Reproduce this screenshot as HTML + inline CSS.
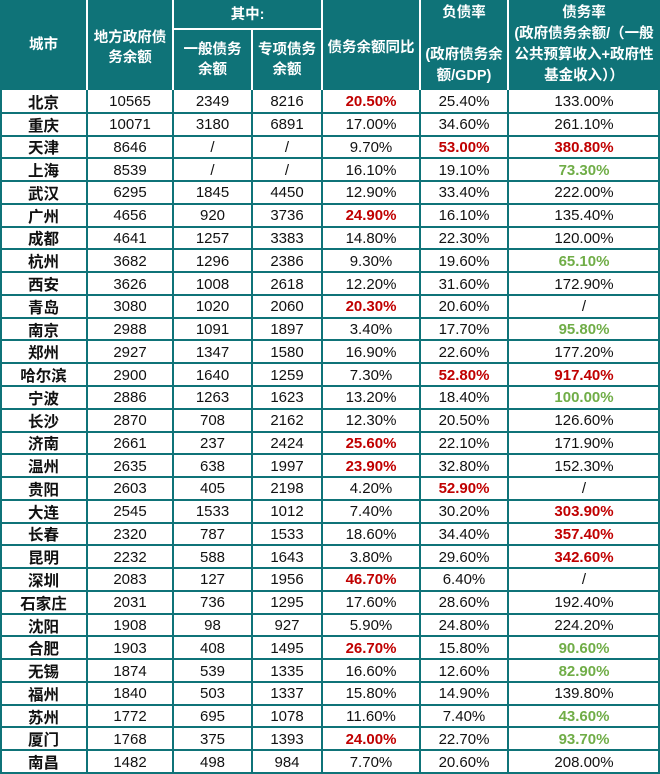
<!DOCTYPE html>
<html><head><meta charset="utf-8">
<style>
body{margin:0;width:660px;height:773px;background:#fff;overflow:hidden;font-family:"Liberation Sans","Noto Sans CJK SC",sans-serif;}
#t{position:absolute;left:0;top:0;width:660px;height:773px;}
.h{position:absolute;background:#0f7378;color:#fff;font-weight:bold;font-size:14.5px;display:flex;align-items:center;justify-content:center;text-align:center;line-height:20px;box-sizing:border-box;}
.c{position:absolute;display:flex;align-items:center;justify-content:center;font-size:15px;color:#111;box-sizing:border-box;padding-top:1px;}
.vl{position:absolute;background:#0f7378;}
.hl{position:absolute;background:#0f7378;}
.wl{position:absolute;background:#fff;}
.r{color:#c00000;font-weight:bold;}
.g{color:#70ad47;font-weight:bold;}
.city{font-weight:bold;font-size:15.5px;}
</style></head><body>
<div id="t">
<div class="h" style="left:0;top:0;width:660px;height:90px"></div>
<div class="h" style="left:0;top:0;width:87px;height:90px">城市</div>
<div class="h" style="left:87px;top:0;width:86px;height:90px;padding-top:6px">地方政府债<br>务余额</div>
<div class="h" style="left:173px;top:0;width:149px;height:29px">其中:</div>
<div class="h" style="left:252px;top:29px;width:70px;height:61px">专项债务<br>余额</div>
<div class="h" style="left:173px;top:29px;width:79px;height:61px">一般债务<br>余额</div>
<div class="h" style="left:322px;top:0;width:98px;height:90px;padding-top:6px">债务余额同比</div>
<div class="h" style="left:420px;top:0;width:88px;height:90px;line-height:21px">负债率<br><br>(政府债务余<br>额/GDP)</div>
<div class="h" style="left:508px;top:0;width:152px;height:90px;line-height:21px">债务率<br>(政府债务余额/（一般<br>公共预算收入+政府性<br>基金收入））</div>
<div class="wl" style="left:173px;top:28px;width:149px;height:1.5px"></div>
</div>
<script>
const cities=["北京","重庆","天津","上海","武汉","广州","成都","杭州","西安","青岛","南京","郑州","哈尔滨","宁波","长沙","济南","温州","贵阳","大连","长春","昆明","深圳","石家庄","沈阳","合肥","无锡","福州","苏州","厦门","南昌"];
const totalDebt=["10565","10071","8646","8539","6295","4656","4641","3682","3626","3080","2988","2927","2900","2886","2870","2661","2635","2603","2545","2320","2232","2083","2031","1908","1903","1874","1840","1772","1768","1482"];
const generalDebt=["2349","3180","/","/","1845","920","1257","1296","1008","1020","1091","1347","1640","1263","708","237","638","405","1533","787","588","127","736","98","408","539","503","695","375","498"];
const specialDebt=["8216","6891","/","/","4450","3736","3383","2386","2618","2060","1897","1580","1259","1623","2162","2424","1997","2198","1012","1533","1643","1956","1295","927","1495","1335","1337","1078","1393","984"];
const yoy=["20.50%R","17.00%","9.70%","16.10%","12.90%","24.90%R","14.80%","9.30%","12.20%","20.30%R","3.40%","16.90%","7.30%","13.20%","12.30%","25.60%R","23.90%R","4.20%","7.40%","18.60%","3.80%","46.70%R","17.60%","5.90%","26.70%R","16.60%","15.80%","11.60%","24.00%R","7.70%"];
const liability=["25.40%","34.60%","53.00%R","19.10%","33.40%","16.10%","22.30%","19.60%","31.60%","20.60%","17.70%","22.60%","52.80%R","18.40%","20.50%","22.10%","32.80%","52.90%R","30.20%","34.40%","29.60%","6.40%","28.60%","24.80%","15.80%","12.60%","14.90%","7.40%","22.70%","20.60%"];
const debtRatio=["133.00%","261.10%","380.80%R","73.30%G","222.00%","135.40%","120.00%","65.10%G","172.90%","/","95.80%G","177.20%","917.40%R","100.00%G","126.60%","171.90%","152.30%","/","303.90%R","357.40%R","342.60%R","/","192.40%","224.20%","90.60%G","82.90%G","139.80%","43.60%G","93.70%G","208.00%"];
const colX=[0,87,173,252,322,420,508,660];
const colNames=["city","total-debt","general-debt","special-debt","yoy","liability-ratio","debt-ratio"];
const top0=90, rh=(773-90)/cities.length;
const t=document.getElementById('t');
const cols=[cities,totalDebt,generalDebt,specialDebt,yoy,liability,debtRatio];
for(let i=0;i<cities.length;i++){
  for(let j=0;j<7;j++){
    let v=cols[j][i];const d=document.createElement('div');
    d.className='c';
    if(j===0)d.classList.add('city');
    if(v.endsWith('R')){v=v.slice(0,-1);d.classList.add('r');}
    else if(v.endsWith('G')){v=v.slice(0,-1);d.classList.add('g');}
    d.textContent=v;
    d.style.left=colX[j]+'px';d.style.width=(colX[j+1]-colX[j])+'px';
    d.style.top=(top0+i*rh)+'px';d.style.height=rh+'px';
    
    
    t.appendChild(d);
  }
  const l=document.createElement('div');l.className='hl';
  l.style.left='0';l.style.width='660px';l.style.height='2px';l.style.top=(top0+(i+1)*rh-1)+'px';
  
  
  t.appendChild(l);
}
for(let j=0;j<colX.length;j++){
  let x=colX[j];
  const l=document.createElement('div');l.className='vl';
  l.style.left=Math.min(Math.max(x-1,0),658)+'px';l.style.width='2px';l.style.top=top0+'px';l.style.height=(773-top0)+'px';
  
  
  t.appendChild(l);
  if(j>0&&j<7){
    const w=document.createElement('div');w.className='wl';
    const y0=(j===3)?29:0;
    w.style.left=(x-1)+'px';w.style.width='1.5px';w.style.top=y0+'px';w.style.height=(90-y0)+'px';
    
    
    t.appendChild(w);
  }
}
</script>
</body></html>
